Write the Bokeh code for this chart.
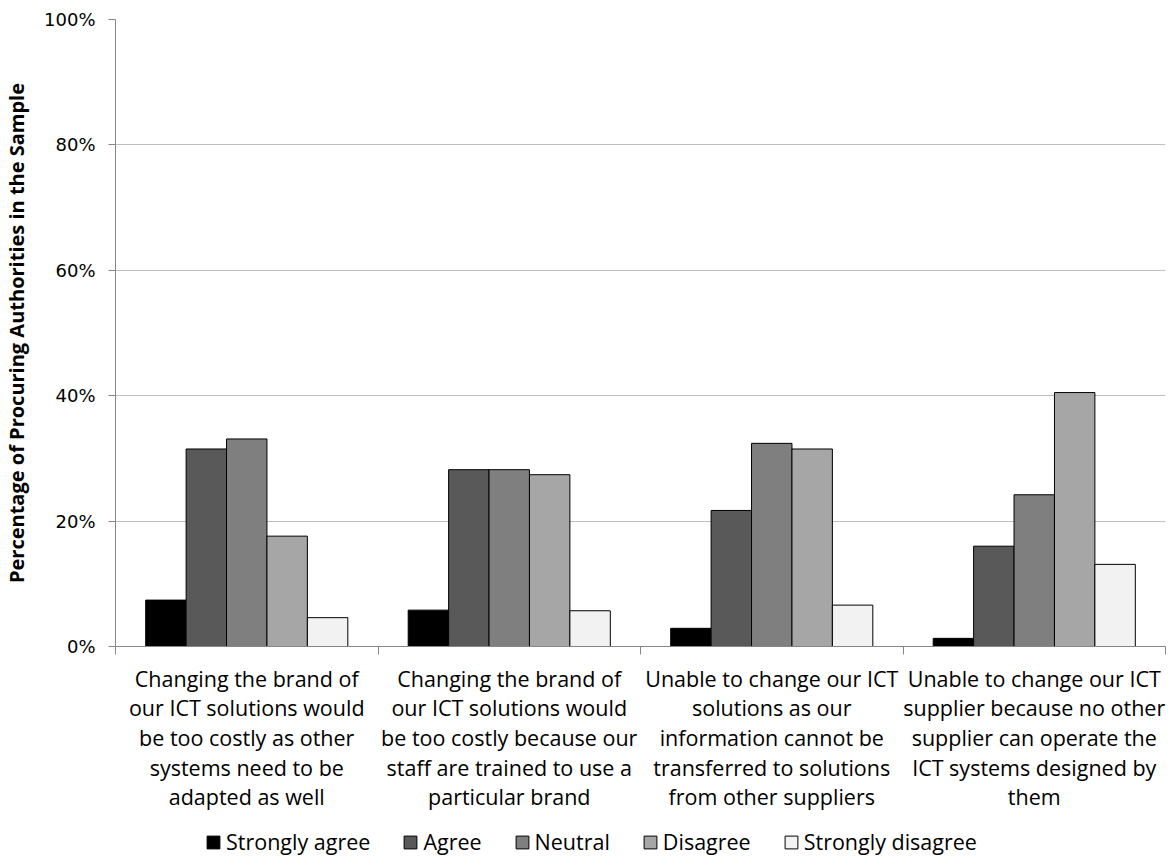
from bokeh.plotting import figure
from bokeh.layouts import column
from bokeh.models import ColumnDataSource, FixedTicker, PrintfTickFormatter, Legend, LegendItem, Range1d
from bokeh.transform import dodge
from bokeh.embed import file_html
from bokeh.resources import INLINE

categories = [
    "Changing the brand of\nour ICT solutions would\nbe too costly as other\nsystems need to be\nadapted as well",
    "Changing the brand of\nour ICT solutions would\nbe too costly because our\nstaff are trained to use a\nparticular brand",
    "Unable to change our ICT\nsolutions as our\ninformation cannot be\ntransferred to solutions\nfrom other suppliers",
    "Unable to change our ICT\nsupplier because no other\nsupplier can operate the\nICT systems designed by\nthem",
]
series = ["Strongly agree", "Agree", "Neutral", "Disagree", "Strongly disagree"]
strongly_agree = [7.4, 5.8, 2.9, 1.3]
agree = [31.5, 28.2, 21.7, 16.0]
neutral = [33.1, 28.2, 32.4, 24.2]
disagree = [17.6, 27.4, 31.5, 40.5]
strongly_disagree = [4.6, 5.7, 6.6, 13.1]
colors = ["#000000", "#595959", "#7f7f7f", "#a6a6a6", "#f2f2f2"]
y_ticks = [0, 20, 40, 60, 80, 100]

cols = ["sa", "ag", "ne", "di", "sd"]
data = dict(x=[i + 0.5 for i in range(len(categories))],
            sa=strongly_agree, ag=agree, ne=neutral, di=disagree, sd=strongly_disagree)
src = ColumnDataSource(data)

p = figure(output_backend="svg", toolbar_location=None,
           x_range=Range1d(0, 4), y_range=Range1d(0, 100),
           frame_width=1050, frame_height=627,
           min_border_left=112, min_border_right=1, min_border_top=19, min_border_bottom=172)
p.outline_line_color = None
p.background_fill_color = "white"

bw = 0.154
for j, (c, col) in enumerate(zip(cols, colors)):
    p.vbar(x=dodge("x", (j - 2) * bw, range=p.x_range), top=c, width=bw, source=src,
           fill_color=col, line_color="#000000", line_width=1)

# y axis
p.yaxis.ticker = FixedTicker(ticks=y_ticks)
p.yaxis.formatter = PrintfTickFormatter(format="%d%%")
p.yaxis.major_label_text_font = "DejaVu Sans"
p.yaxis.major_label_text_font_size = "18px"
p.yaxis.major_label_text_color = "#000000"
p.yaxis.axis_line_color = "#868686"
p.yaxis.major_tick_line_color = "#868686"
p.yaxis.major_tick_out = 7
p.yaxis.major_tick_in = 0
p.yaxis.minor_tick_line_color = None
p.yaxis.axis_label = "Percentage of Procuring Authorities in the Sample"
p.yaxis.axis_label_text_font = "Open Sans"
p.yaxis.axis_label_text_font_style = "bold"
p.yaxis.axis_label_text_font_size = "20px"
p.yaxis.axis_label_text_color = "#000000"
p.yaxis.axis_label_standoff = 11
p.yaxis.major_label_standoff = 13

# x axis
p.xaxis.ticker = FixedTicker(ticks=[0.5, 1.5, 2.5, 3.5], minor_ticks=[0, 1, 2, 3, 4])
p.xaxis.major_label_overrides = {i + 0.5: c for i, c in enumerate(categories)}
p.xaxis.major_label_text_font = "Open Sans"
p.xaxis.major_label_text_font_size = "21.5px"
p.xaxis.major_label_text_line_height = 1.024
p.xaxis.major_label_text_color = "#000000"
p.xaxis.major_tick_line_color = None
p.xaxis.minor_tick_line_color = "#868686"
p.xaxis.minor_tick_out = 8
p.xaxis.minor_tick_in = 0
p.xaxis.axis_line_color = "#868686"
p.xaxis.major_label_standoff = 9
p.xaxis.axis_label = None

p.xgrid.grid_line_color = None
p.ygrid.ticker = FixedTicker(ticks=y_ticks)
p.ygrid.grid_line_color = "#bfbfbf"

# legend strip below the chart
p2 = figure(output_backend="svg", toolbar_location=None,
            x_range=Range1d(0, 1), y_range=Range1d(0, 1),
            frame_width=1163, frame_height=39,
            min_border_left=0, min_border_right=0, min_border_top=0, min_border_bottom=0)
p2.outline_line_color = None
p2.axis.visible = False
p2.grid.visible = False
hidden = ColumnDataSource(dict(x=[-5.0], top=[0.0]))
items = []
for name, col in zip(series, colors):
    r = p2.vbar(x="x", top="top", width=0.1, source=hidden,
                fill_color=col, line_color="#000000", line_width=1)
    items.append(LegendItem(label=name, renderers=[r]))
legend = Legend(items=items, orientation="horizontal", location=(205, 1),
                label_text_font="Open Sans", label_text_font_size="21.5px",
                label_text_color="#000000", label_text_line_height=1.0,
                glyph_width=16, glyph_height=16, label_standoff=5, spacing=32,
                border_line_color=None, background_fill_alpha=0, padding=0, margin=0)
p2.add_layout(legend, "center")

layout = column(p, p2, spacing=0)
open("out.html", "w").write(file_html(layout, INLINE))
